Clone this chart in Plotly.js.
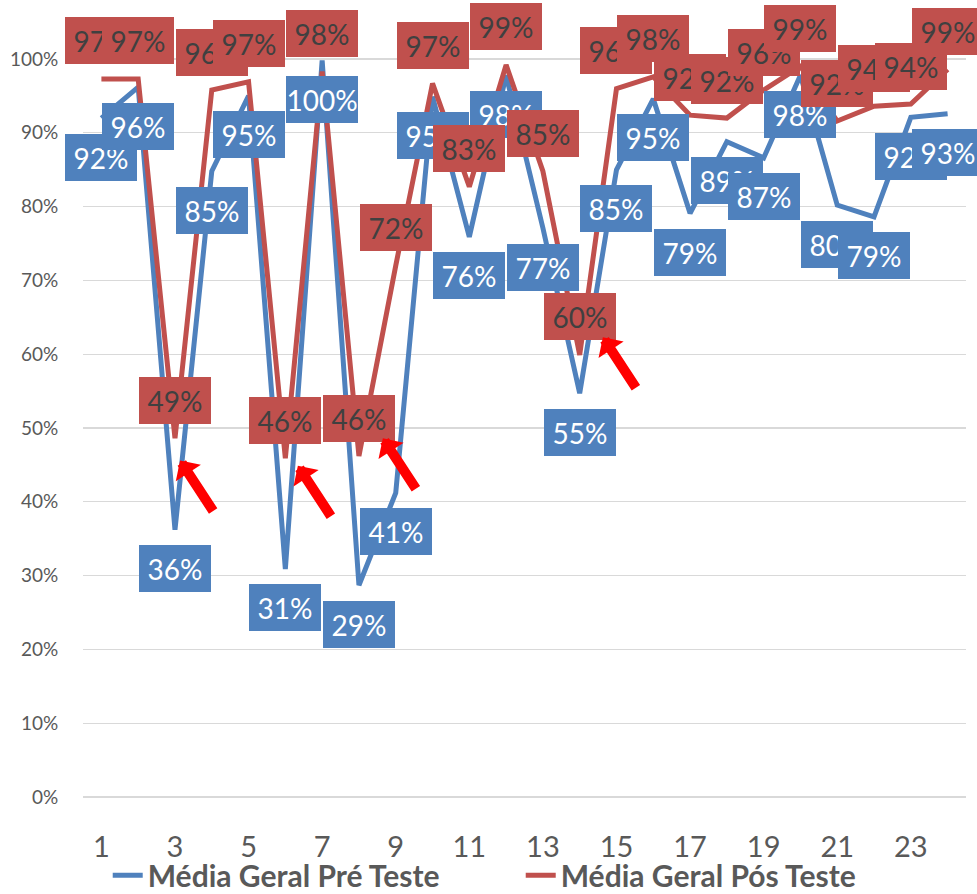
<!DOCTYPE html>
<html>
<head>
<meta charset="utf-8">
<script src="https://cdn.plot.ly/plotly-3.0.1.min.js"></script>
<style>
  html, body { margin: 0; padding: 0; background: #ffffff; }
  #chart { width: 977px; height: 894px; }
</style>
</head>
<body>
<div id="chart"></div>
<script>
// ---- data ----
const categories = [1, 2, 3, 4, 5, 6, 7, 8, 9, 10, 11, 12, 13, 14, 15, 16, 17, 18, 19, 20, 21, 22, 23, 24];
const preTeste = [0.92, 0.962, 0.362, 0.848, 0.95, 0.309, 0.998, 0.287, 0.412, 0.949, 0.759, 0.978,
                  0.771, 0.547, 0.85, 0.946, 0.791, 0.888, 0.866, 0.978, 0.802, 0.786, 0.921, 0.926];
const posTeste = [0.973, 0.973, 0.486, 0.958, 0.969, 0.459, 0.983, 0.462, 0.72, 0.967, 0.827, 0.992,
                  0.848, 0.599, 0.96, 0.976, 0.924, 0.92, 0.958, 0.99, 0.916, 0.936, 0.939, 0.986];
const seriesNames = ["Média Geral Pré Teste", "Média Geral Pós Teste"];
const yTickVals = [0, 0.1, 0.2, 0.3, 0.4, 0.5, 0.6, 0.7, 0.8, 0.9, 1.0];
const yTickText = ["0%", "10%", "20%", "30%", "40%", "50%", "60%", "70%", "80%", "90%", "100%"];
const xTickVals = [1, 3, 5, 7, 9, 11, 13, 15, 17, 19, 21, 23];
const xTickText = ["1", "3", "5", "7", "9", "11", "13", "15", "17", "19", "21", "23"];
// categories pointed at by the red arrows (arrow tips near the Pós Teste dips)
const arrowCats = [3, 6, 8, 14];

// ---- styles ----
const BLUE = "#4F81BD";
const RED = "#C0504D";
const FONT = "Lato, 'Open Sans', sans-serif";
const pct = v => Math.round(v * 100) + "%";

const traces = [
  {
    x: categories, y: preTeste, name: seriesNames[0], type: "scatter", mode: "lines",
    line: { color: BLUE, width: 5 }, hoverinfo: "skip"
  },
  {
    x: categories, y: posTeste, name: seriesNames[1], type: "scatter", mode: "lines",
    line: { color: RED, width: 5 }, hoverinfo: "skip"
  }
];

const annotations = [];
categories.forEach((c, i) => {
  annotations.push({
    x: c, y: preTeste[i], xref: "x", yref: "y", text: pct(preTeste[i]),
    showarrow: false, yshift: -39, width: 72, height: 47,
    bgcolor: BLUE, borderpad: 0, borderwidth: 0,
    font: { family: FONT, size: 28, color: "#ffffff" }
  });
});
categories.forEach((c, i) => {
  annotations.push({
    x: c, y: posTeste[i], xref: "x", yref: "y", text: pct(posTeste[i]),
    showarrow: false, yshift: 38, width: 72, height: 47,
    bgcolor: RED, borderpad: 0, borderwidth: 0,
    font: { family: FONT, size: 28, color: "#404040" }
  });
});
// red block arrows (tips just right-below the red dips)
const arrowOffsets = [[0.14, -0.03], [0.34, -0.01], [0.65, 0.024], [0.63, 0.024]];
arrowCats.forEach((c, k) => {
  const idx = categories.indexOf(c);
  annotations.push({
    x: c + arrowOffsets[k][0], y: posTeste[idx] + arrowOffsets[k][1], xref: "x", yref: "y",
    text: "", showarrow: true, ax: 34, ay: 52,
    arrowhead: 1, arrowsize: 0.5, arrowwidth: 10, arrowcolor: "#FF0000", standoff: 0
  });
});

const layout = {
  width: 977, height: 894,
  margin: { l: 83, r: 11, t: 0, b: 97 },
  paper_bgcolor: "#ffffff", plot_bgcolor: "#ffffff",
  showlegend: true,
  legend: {
    orientation: "h", x: 0.028, xanchor: "left",
    yref: "container", y: 0.021, yanchor: "middle",
    bgcolor: "rgba(0,0,0,0)",
    font: { family: FONT, size: 30, color: "#595959", weight: "bold" },
    itemwidth: 30, entrywidth: 368, traceorder: "normal"
  },
  xaxis: {
    range: [0.5, 24.5], tickvals: xTickVals, ticktext: xTickText, automargin: false,
    showgrid: false, zeroline: false, showline: false,
    ticks: "outside", ticklen: 24, tickcolor: "rgba(0,0,0,0)",
    tickfont: { family: FONT, size: 29, color: "#595959" }
  },
  yaxis: {
    range: [0, 1.08], tickvals: yTickVals, ticktext: yTickText, automargin: false,
    showgrid: true, gridcolor: "#D9D9D9", gridwidth: 1.3,
    zeroline: true, zerolinecolor: "#D9D9D9", zerolinewidth: 1.3, showline: false,
    ticks: "outside", ticklen: 20, tickcolor: "rgba(0,0,0,0)",
    tickfont: { family: FONT, size: 19, color: "#595959" }
  },
  annotations: annotations
};

Plotly.newPlot("chart", traces, layout, { displayModeBar: false, staticPlot: true });
</script>
</body>
</html>
